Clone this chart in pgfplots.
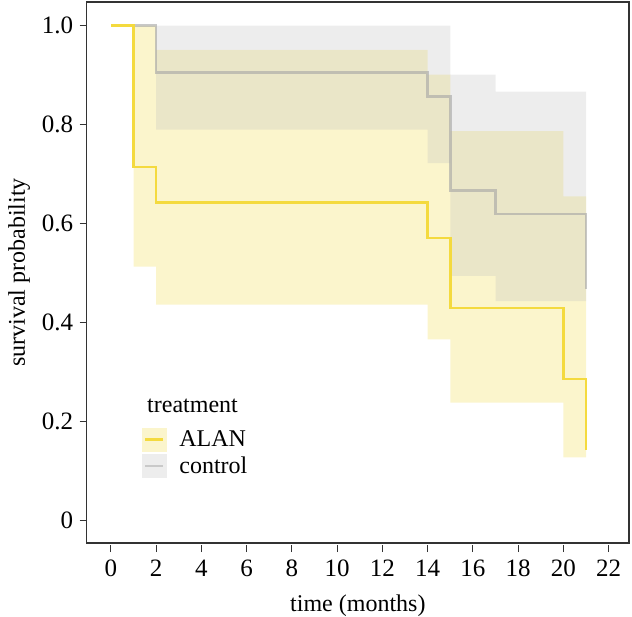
\documentclass[border=0pt]{standalone}
\usepackage{pgfplots}
\pgfplotsset{compat=1.18}
\usepackage{fontspec}
\setmainfont{Liberation Serif}
\definecolor{alanline}{HTML}{F4DA3E}
\definecolor{alanband}{HTML}{FBF5CC}
\definecolor{ctrlband}{HTML}{BEBEBE}
\definecolor{ctrlkey}{HTML}{EDEDED}
\definecolor{ctrlline}{HTML}{A4A4A4}
\definecolor{ctrlkeyline}{HTML}{C9C9C9}
\definecolor{axcol}{HTML}{333333}
\begin{document}
\begin{tikzpicture}
\begin{axis}[
  scale only axis, width=542.3bp, height=541bp,
  xmin=-1.07, xmax=22.9, ymin=-0.046, ymax=1.048,
  xtick={0,2,...,22}, ytick={0,0.2,0.4,0.6,0.8,1.0},
  yticklabels={0,0.2,0.4,0.6,0.8,1.0},
  /pgf/number format/assume math mode=true,
  tick align=outside, major tick length=7bp, tick pos=left,
  tick style={axcol, line width=1.1bp},
  x tick style={yshift=-2.2bp},
  axis line style={line width=1.1bp, axcol},
  font=\fontsize{24bp}{29bp}\selectfont,
  tick label style={font=\fontsize{25bp}{30bp}\selectfont},
  xticklabel style={yshift=-6.5bp},
  yticklabel style={xshift=-3bp},
  xlabel={time (months)}, ylabel={survival probability},
  xlabel style={at={(axis description cs:0.5,-0.1275)}, anchor=base, inner sep=0pt},
  ylabel style={at={(axis description cs:-0.1451,0.5)}, anchor=north, inner sep=0pt},
  legend style={at={(0.102,0.2126)}, anchor=north west, draw=none, fill=none,
    inner sep=0pt, outer sep=0pt, row sep=3bp, font=\fontsize{24bp}{29bp}\selectfont,
    nodes={inner sep=0pt}},
  legend cell align=left,
  /tikz/every odd column/.append style={column sep=13bp},
]
% ALAN confidence band
\addplot[fill=alanband, draw=none, forget plot] coordinates {
 (1,1) (2,1) (2,0.951) (14,0.951) (14,0.901) (15,0.901) (15,0.787) (20,0.787) (20,0.655) (21,0.655)
 (21,0.127) (20,0.127) (20,0.238) (15,0.238) (15,0.366) (14,0.366) (14,0.436) (2,0.436) (2,0.513) (1,0.513)} -- cycle;
% control confidence band
\addplot[fill=ctrlband, fill opacity=0.27, draw=none, forget plot] coordinates {
 (2,1) (15,1) (15,0.901) (17,0.901) (17,0.867) (21,0.867)
 (21,0.443) (17,0.443) (17,0.494) (15,0.494) (15,0.722) (14,0.722) (14,0.790) (2,0.790)} -- cycle;
% survival curves
\addplot[const plot mark left, ctrlline, draw opacity=0.6, line width=2.5bp, forget plot] coordinates {
 (0,1) (2,0.905) (14,0.857) (15,0.667) (17,0.619) (21,0.467)};
\addplot[const plot mark left, alanline, line width=2.5bp, forget plot] coordinates {
 (0,1) (1,0.714) (2,0.643) (14,0.571) (15,0.429) (20,0.286) (21,0.143)};
\addlegendimage{legend image code/.code={
  \fill[alanband] (0bp,-11.5bp) rectangle (24bp,11.5bp);
  \draw[alanline, line width=2.5bp] (3bp,0bp) -- (21bp,0bp);}}
\addlegendentry{ALAN}
\addlegendimage{legend image code/.code={
  \fill[ctrlkey] (0bp,-11.5bp) rectangle (24bp,11.5bp);
  \draw[ctrlkeyline, line width=2.5bp] (3bp,0bp) -- (21bp,0bp);}}
\addlegendentry{control}
\node[anchor=base west, inner sep=0pt, font=\fontsize{24bp}{29bp}\selectfont] at (axis description cs:0.1112,0.2421) {treatment};
\end{axis}
\pgfresetboundingbox
\path ([xshift=-86.7bp,yshift=-74bp]current axis.south west) rectangle ([xshift=3bp,yshift=2bp]current axis.north east);
\end{tikzpicture}
\end{document}
